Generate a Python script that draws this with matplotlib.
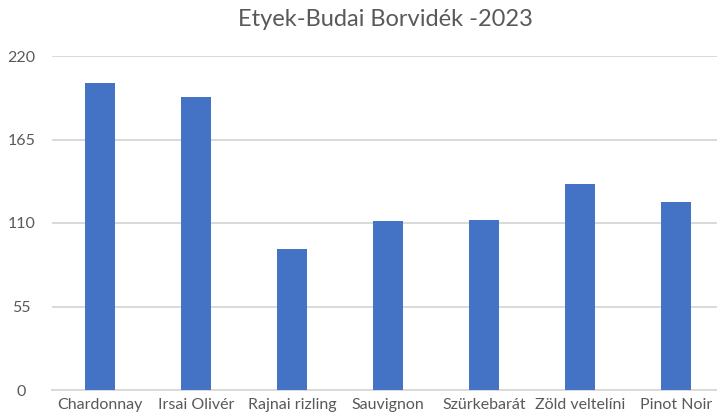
import matplotlib.pyplot as plt
import numpy as np

# Fajták és értékek
categories = ['Chardonnay', 'Irsai Olivér', 'Rajnai rizling', 'Sauvignon',
              'Szürkebarát', 'Zöld veltelíni', 'Pinot Noir']
values = [202, 193, 93, 111, 112, 135.5, 124]
y_ticks = [0, 55, 110, 165, 220]

plt.rcParams['font.family'] = ['Lato', 'DejaVu Sans']
text_color = '#595959'

fig = plt.figure(figsize=(7.17, 4.16), dpi=100)
# tengely a kép jobb szélén túlnyúlik, mint az eredetin
ax = fig.add_axes([52 / 717, 26 / 416, 672 / 717, 334 / 416])

x = np.arange(len(categories))
ax.bar(x, values, width=0.31, color='#4472C4', zorder=3)

ax.set_xlim(-0.5, len(categories) - 0.5)
ax.set_ylim(0, 220)
ax.set_yticks(y_ticks)
ax.set_xticks(x)
ax.set_xticklabels(categories)
ax.grid(axis='y', color='#d9d9d9', linewidth=1.4, zorder=0)
ax.tick_params(length=0, labelsize=11.5, colors=text_color)
ax.tick_params(axis='y', pad=22)
ax.tick_params(axis='x', pad=6)
for lab in ax.get_yticklabels():
    lab.set_horizontalalignment('center')

for s in ['top', 'right', 'left']:
    ax.spines[s].set_visible(False)
ax.spines['bottom'].set_color('#d9d9d9')
ax.spines['bottom'].set_linewidth(1.4)

fig.text(385 / 717, 1 - 20 / 416, 'Etyek-Budai Borvidék -2023', ha='center', va='center',
         fontsize=17, color=text_color)

fig.savefig('out.png', dpi=100)
